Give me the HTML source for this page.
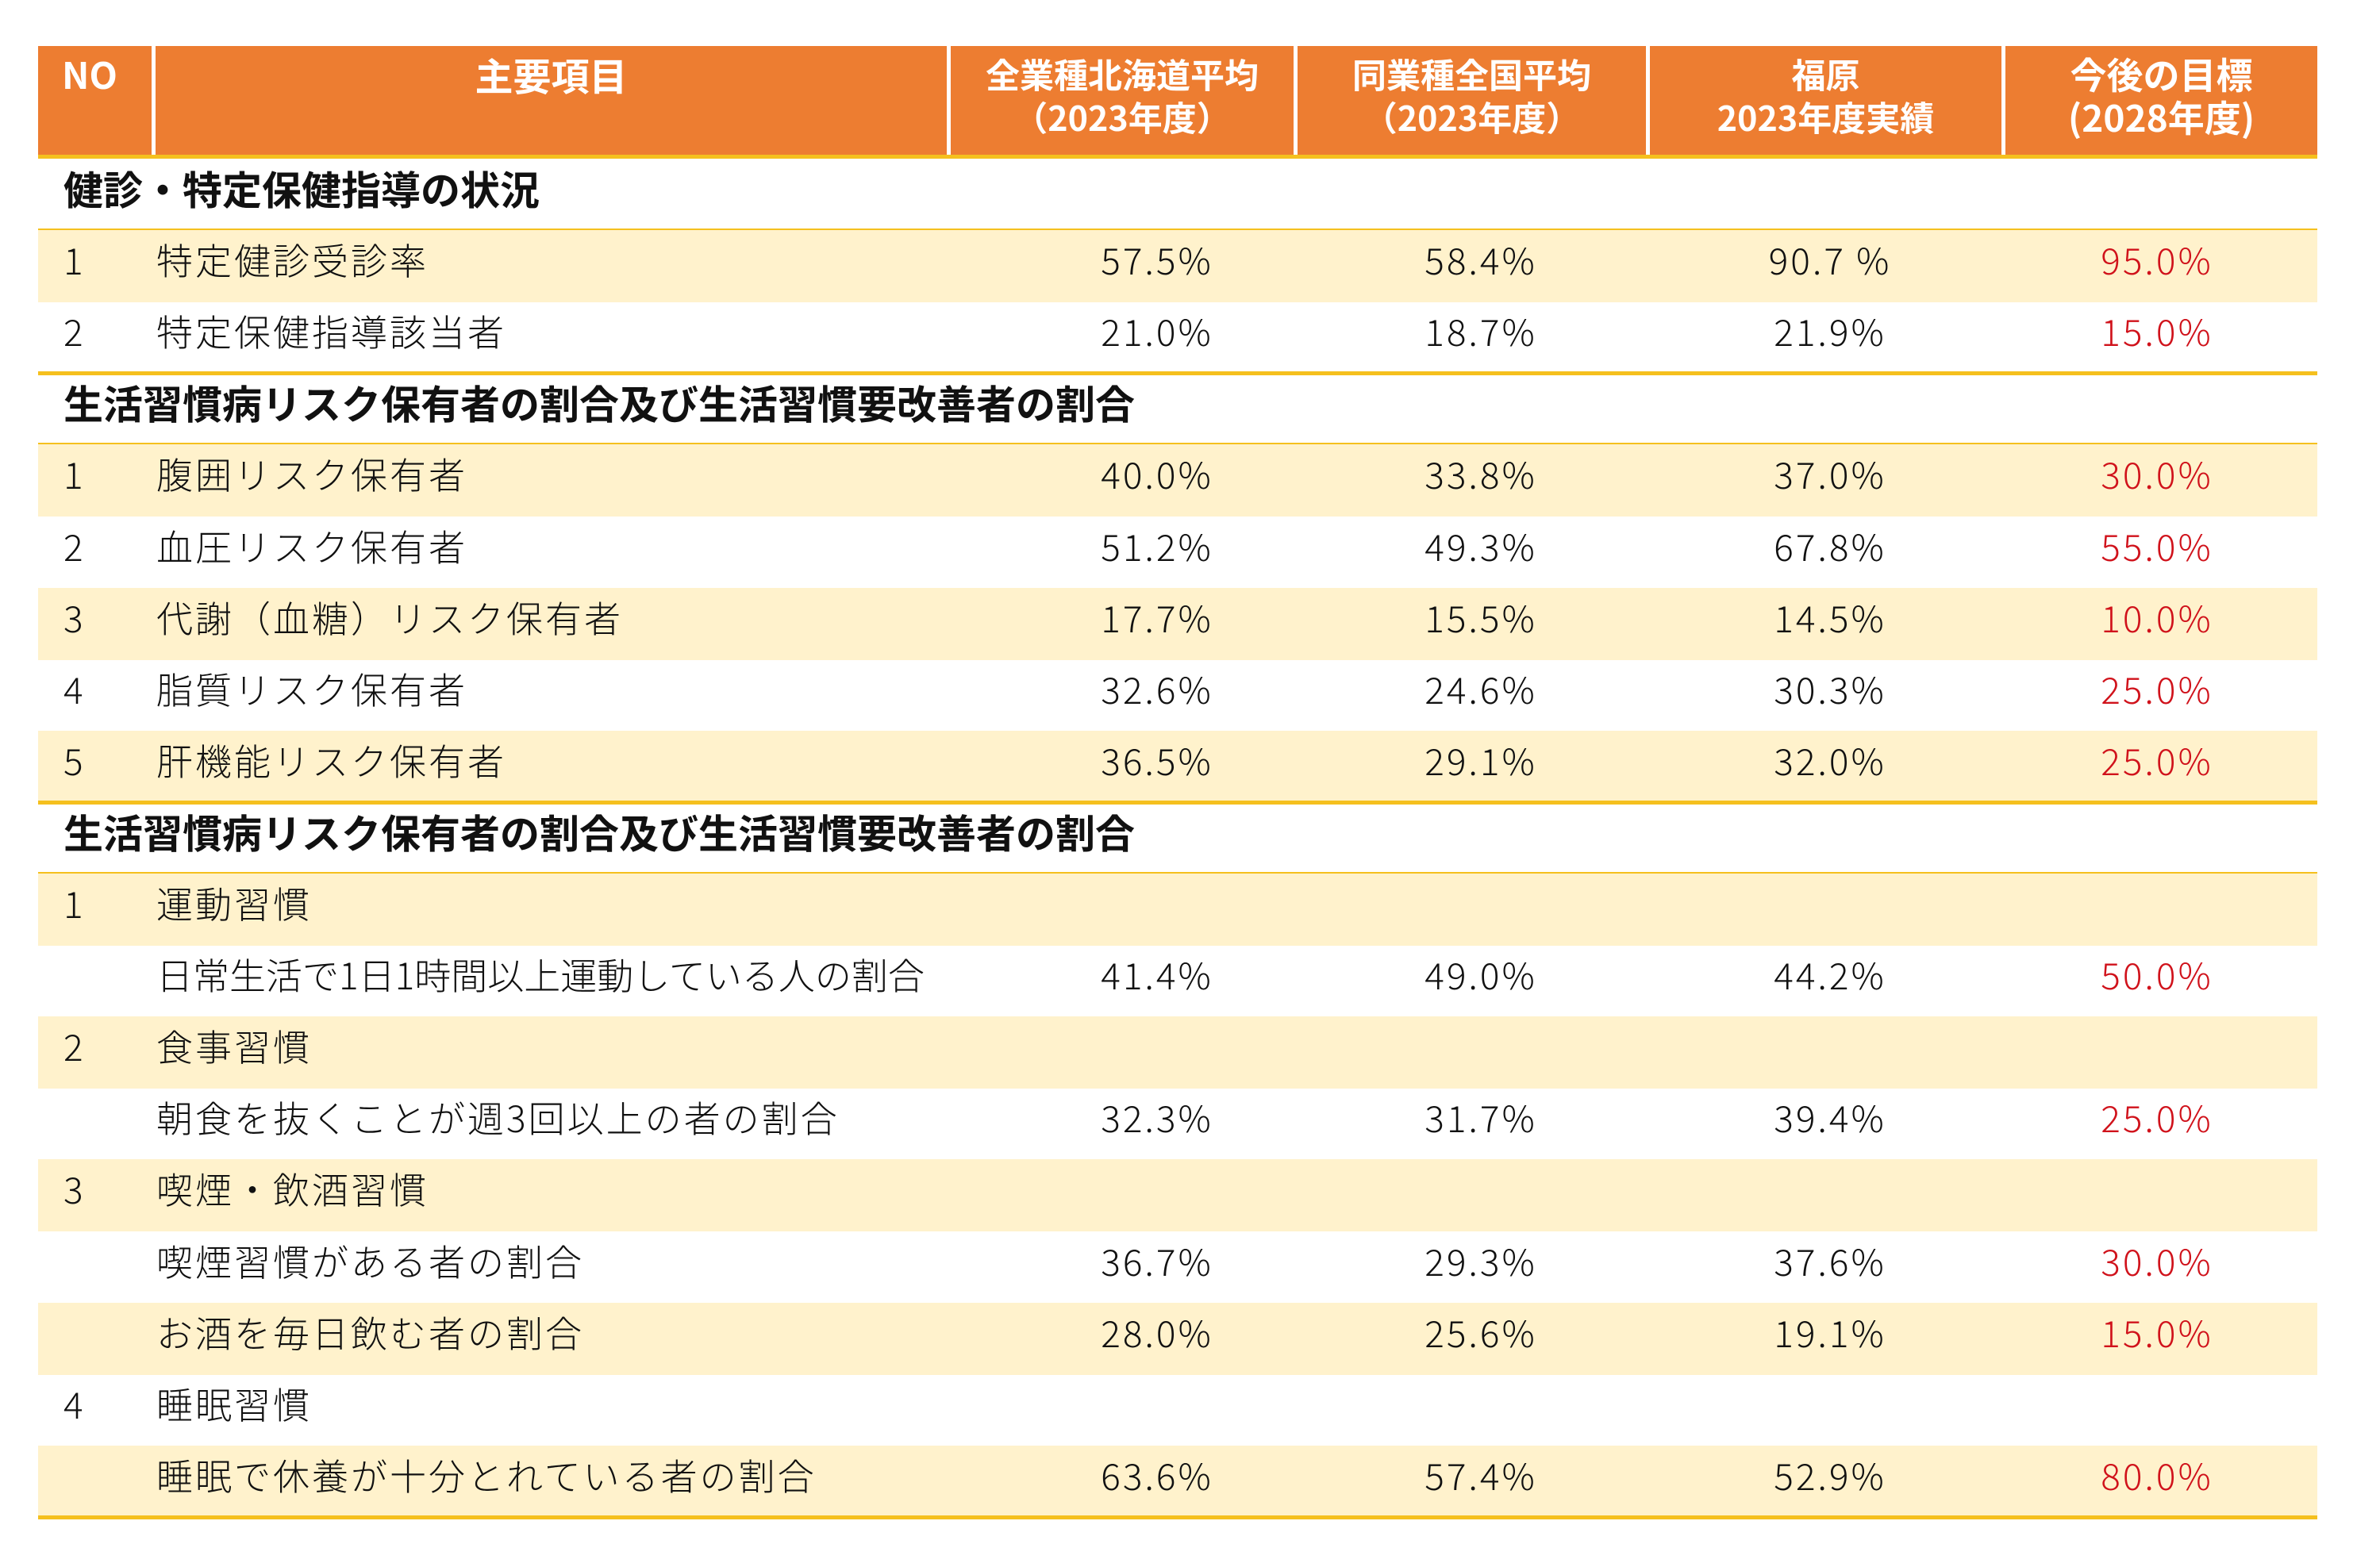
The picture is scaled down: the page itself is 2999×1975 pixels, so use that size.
<!DOCTYPE html>
<html><head><meta charset="utf-8"><style>
*{margin:0;padding:0;box-sizing:border-box}
body{width:2999px;height:1975px;background:#fff;position:relative;overflow:hidden;font-family:"Liberation Sans","Noto Sans CJK JP",sans-serif}
.h{position:absolute;top:58px;height:139px;background:#ED7D31;color:#fff;font-weight:bold;font-size:43px;line-height:54px;text-align:center;padding-top:8px;font-family:"Noto Sans CJK JP",sans-serif}
.r{position:absolute;left:48px;width:2872px;height:91px}
.y{background:#FFF2CC}
.ln{position:absolute;left:48px;width:2872px;height:5px;background:#F5C01E}
.t{position:absolute;font-size:46px;line-height:91px;white-space:nowrap;color:#111;font-family:"Noto Sans CJK JP",sans-serif;font-weight:300;letter-spacing:3px}
.b{font-weight:bold;letter-spacing:0;font-size:50px}
.v{position:absolute;font-size:46px;line-height:91px;width:300px;text-align:center;color:#111;font-family:"Noto Sans CJK JP",sans-serif;font-weight:300;letter-spacing:3px}
.red{color:#D0121B}
</style></head><body>
<div class="h" style="left:48px;width:143px;text-align:left;padding-left:30px;font-size:46px">NO</div>
<div class="h" style="left:196px;width:997px;font-size:48px">主要項目</div>
<div class="h" style="left:1198px;width:432px">全業種北海道平均<br>（2023年度）</div>
<div class="h" style="left:1635px;width:439px">同業種全国平均<br>（2023年度）</div>
<div class="h" style="left:2079px;width:443px">福原<br>2023年度実績</div>
<div class="h" style="left:2527px;width:393px;font-size:46px">今後の目標<br>(2028年度)</div>
<div class="ln" style="top:195px"></div>
<div id="rows"></div>
<script>
var rows=[
["s","健診・特定保健指導の状況"],
["y","1","特定健診受診率","57.5%","58.4%","90.7 %","95.0%"],
["w","2","特定保健指導該当者","21.0%","18.7%","21.9%","15.0%"],
["s","生活習慣病リスク保有者の割合及び生活習慣要改善者の割合"],
["y","1","腹囲リスク保有者","40.0%","33.8%","37.0%","30.0%"],
["w","2","血圧リスク保有者","51.2%","49.3%","67.8%","55.0%"],
["y","3","代謝（血糖）リスク保有者","17.7%","15.5%","14.5%","10.0%"],
["w","4","脂質リスク保有者","32.6%","24.6%","30.3%","25.0%"],
["y","5","肝機能リスク保有者","36.5%","29.1%","32.0%","25.0%"],
["s","生活習慣病リスク保有者の割合及び生活習慣要改善者の割合"],
["y","1","運動習慣"],
["w","","日常生活で1日1時間以上運動している人の割合","41.4%","49.0%","44.2%","50.0%",1],
["y","2","食事習慣"],
["w","","朝食を抜くことが週3回以上の者の割合","32.3%","31.7%","39.4%","25.0%"],
["y","3","喫煙・飲酒習慣"],
["w","","喫煙習慣がある者の割合","36.7%","29.3%","37.6%","30.0%"],
["y","","お酒を毎日飲む者の割合","28.0%","25.6%","19.1%","15.0%"],
["w","4","睡眠習慣"],
["y","","睡眠で休養が十分とれている者の割合","63.6%","57.4%","52.9%","80.0%"]];
var lines=[0,2,3,8,9,18];var cx=[1458,1866,2306,2718];var h="";
rows.forEach(function(r,i){var top=200+i*90.1;var tt=top-8;
 h+='<div class="r'+(r[0]=="y"?" y":"")+'" style="top:'+top+'px"></div>';
 if(r[0]=="s"){h+='<div class="t b" style="left:80px;top:'+tt+'px">'+r[1]+'</div>';}
 else{h+='<div class="t" style="left:80px;top:'+tt+'px">'+r[1]+'</div>';
  h+='<div class="t" style="left:197px;top:'+tt+'px'+(r[7]?';letter-spacing:0':'')+'">'+r[2]+'</div>';
  for(var k=0;k<4;k++){if(r[3+k])h+='<div class="v'+(k==3?" red":"")+'" style="left:'+(cx[k]-150)+'px;top:'+tt+'px">'+r[3+k]+'</div>';}}
 if(lines.indexOf(i)>=0)h+='<div class="ln" style="top:'+(top+88)+'px"></div>';
});
document.getElementById("rows").innerHTML=h;
</script>
</body></html>
